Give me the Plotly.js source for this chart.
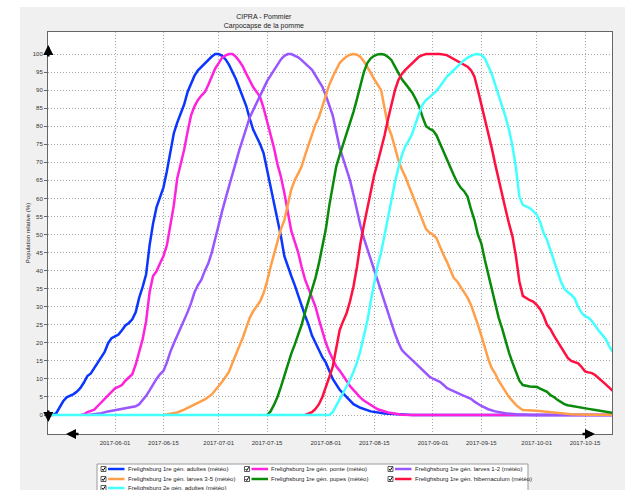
<!DOCTYPE html>
<html><head><meta charset="utf-8">
<script src="https://cdn.plot.ly/plotly-3.0.1.min.js"></script>
<style>
html,body{margin:0;padding:0;background:#fff;width:625px;height:490px;overflow:hidden;}
#chart{position:absolute;left:20px;top:7px;width:605px;height:483px;}
</style></head><body><div id="chart"></div>
<script>
const seriesNames = [
  'Frelighsburg 1re gén. adultes (météo)',
  'Frelighsburg 1re gén. ponte (météo)',
  'Frelighsburg 1re gén. larves 1-2 (météo)',
  'Frelighsburg 1re gén. larves 3-5 (météo)',
  'Frelighsburg 1re gén. pupes (météo)',
  'Frelighsburg 1re gén. hibernaculum (météo)',
  'Frelighsburg 2e gén. adultes (météo)'
];
const seriesColors = ['#0a36ff','#ff22dd','#9955ff','#ff9f4a','#0a8a0a','#ff1040','#44ffff'];

const adultes1Days = ['05-13','05-14','05-15','05-16','05-17','05-18','05-19','05-20','05-21','05-22','05-23','05-24','05-25','05-26','05-27','05-28','05-29','05-30','05-31',
 '06-01','06-02','06-03','06-04','06-05','06-06','06-07','06-08','06-09','06-10','06-11','06-12','06-13','06-14','06-15','06-16','06-17','06-18','06-19','06-20','06-21','06-22','06-23','06-24','06-25','06-26','06-27','06-28','06-29','06-30',
 '07-01','07-02','07-03','07-04','07-05','07-06','07-07','07-08','07-09','07-10','07-11','07-12','07-13','07-14','07-15','07-16','07-17','07-18','07-19','07-20','07-21','07-22','07-23','07-24','07-25','07-26','07-27','07-28','07-29','07-30','07-31',
 '08-01','08-02','08-03','08-04','08-05','08-06','08-07','08-08','08-09','08-11','08-14','08-18','08-22','08-26','10-23'];
const adultes1Values = [0,0,0.5,2,3.8,4.9,5.3,5.8,6.5,7.5,9,10.8,11.5,13,14.8,16,17.5,19.9,21.3,
 21.8,22.3,23.5,24.8,25.5,26.5,28.5,32.5,35.5,39,47,53,57.5,60,63,67.5,73,78,81,83.5,86,89.5,92,94,95.5,96.5,97.5,98.5,99.3,100,
 100,99.5,98.5,97,95,93,90.5,88,85.5,82,79,77,75,72.5,68,64,59.5,55,49.5,44,41,38.5,36,33,30,27.5,25,22,20,18,16,
 14.5,12,10,8.5,7,6,5,4,3,2,1,0.4,0.1,0,0];

const ponteDays = ['05-22','05-23','05-24','05-25','05-26','05-27','05-28','05-29','05-30','05-31',
 '06-01','06-02','06-03','06-04','06-05','06-06','06-07','06-08','06-09','06-10','06-11','06-12','06-13','06-14','06-15','06-16','06-17','06-18','06-19','06-20','06-21','06-22','06-23','06-24','06-25','06-26','06-27','06-28','06-29','06-30',
 '07-01','07-02','07-03','07-04','07-05','07-06','07-07','07-08','07-09','07-10','07-11','07-12','07-13','07-14','07-15','07-16','07-17','07-18','07-19','07-20','07-21','07-22','07-23','07-24','07-25','07-26','07-27','07-28','07-29','07-30','07-31',
 '08-01','08-02','08-03','08-04','08-05','08-06','08-07','08-08','08-09','08-10','08-11','08-12','08-14','08-16','08-19','08-23','08-26','10-23'];
const ponteValues = [0,0.2,0.8,1.2,1.5,2.5,3.5,4.5,5.5,6.5,
 7.4,7.8,8.3,9.5,10.5,11.3,14,17.5,21,26,34,38.5,39.8,42,44,47,52,58,65.5,69.5,73.5,78.5,83,85.5,87.3,88.5,89.5,91.5,94,96,
 97.5,99,99.6,100,100,99.2,98,96.5,94.5,92.5,90.8,89.5,88,85,81.5,78,74,69.5,66,61.5,56,51,48,45,41,37.5,35,32.5,30,26.5,23,
 20,17.5,15.3,13.5,12.3,11,9.5,8,6.9,5.8,4.8,4,2.7,1.6,0.7,0.1,0,0];

const larves12Days = ['05-24','05-26','05-28','05-30','06-01','06-03','06-05','06-07',
 '06-08','06-09','06-10','06-11','06-12','06-13','06-14','06-15','06-16','06-17','06-18','06-19','06-20','06-21','06-22','06-23','06-24','06-25','06-26','06-27','06-28','06-29','06-30',
 '07-01','07-02','07-03','07-04','07-05','07-06','07-07','07-08','07-09','07-10','07-11','07-12','07-13','07-14','07-15','07-16','07-17','07-18','07-19','07-20','07-21','07-22','07-23','07-24','07-25','07-26','07-27','07-28','07-29','07-30','07-31',
 '08-01','08-02','08-03','08-04','08-05','08-06','08-07','08-08','08-09','08-10','08-11','08-12','08-13','08-14','08-15','08-16','08-17','08-18','08-19','08-20','08-21','08-22','08-23','08-24','08-25','08-26','08-27','08-28','08-29','08-30','08-31',
 '09-01','09-02','09-03','09-04','09-05','09-06','09-07','09-08','09-09','09-10','09-11','09-12','09-13','09-14','09-15',
 '09-17','09-19','09-22','09-25','09-30','10-23'];
const larves12Values = [0,0.2,0.5,1,1.4,1.7,2,2.4,
 3,4,5.3,6.8,8.5,10,11.3,12.2,14.5,17.5,19.8,22,24.2,26,28.5,31,34,36,37.5,40,42,45,49,
 53,56.5,60,63.5,66.5,70,73.5,76.5,79.5,82.5,84.5,86.5,88.2,90.5,92.5,94,95.5,97,98.5,99.5,100,100,99.6,99.1,98.3,97.5,96.5,95.6,94,92.5,90.9,
 88.5,86,83,78.5,74,71,68,65,61,56.5,52.5,49,46,43,40.5,37,34,31,28,25.4,22.5,20,18,17,16,15.2,14.3,13.3,12.3,11.4,10.6,
 10.1,9.6,9.2,8.4,7.5,7,6.5,6.1,5.7,5.3,5,4.5,3.7,3,2.5,
 1.6,1,0.5,0.2,0,0];

const larves35Days = ['06-15','06-17','06-19','06-21','06-23','06-25','06-27','06-29','06-30',
 '07-01','07-02','07-03','07-04','07-05','07-06','07-07','07-08','07-09','07-10','07-11','07-12','07-13','07-14','07-15','07-16','07-17','07-18','07-19','07-20','07-21','07-22','07-23','07-24','07-25','07-26','07-27','07-28','07-29','07-30','07-31',
 '08-01','08-02','08-03','08-04','08-05','08-06','08-07','08-08','08-09','08-10','08-11','08-12','08-13','08-14','08-15','08-16','08-17','08-18','08-19','08-20','08-21','08-22','08-23','08-24','08-25','08-26','08-27','08-28','08-29','08-30','08-31',
 '09-01','09-02','09-03','09-04','09-05','09-06','09-07','09-08','09-09','09-10','09-11','09-12','09-13','09-14','09-15','09-16','09-17','09-18','09-19','09-20','09-21','09-22','09-23','09-24','09-25','09-26','09-27',
 '10-01','10-03','10-06','10-11','10-16','10-23'];
const larves35Values = [0,0.3,0.7,1.5,2.5,3.5,4.3,5.7,6.8,
 8,9.2,10.6,12,14.5,16.8,19.3,21.5,24.3,27,28.8,30,31.5,33.8,37,41,44.5,48.5,51.5,54,58,62.5,65,67,68.8,72,75,78,80.5,82.5,85.5,
 89,91.5,93.7,95.8,97.5,98.5,99.3,99.8,100,99.8,99.2,98,96.5,94.8,93,91.5,90,85,80,77.5,74,70.6,68,66,63.5,61,59,56.5,54,51.5,50.5,
 50,49,46.6,44.5,42.5,40,38,37,35.5,34.3,32.5,30.5,28,25,22,18.5,15.5,13,11.5,9.5,7.8,6.5,5,3.8,2.8,2,1.4,
 1.2,1,0.5,0.2,0.1,0.1];

const pupesDays = ['07-15','07-16','07-17','07-18','07-19','07-20','07-21','07-22','07-23','07-24','07-25','07-26','07-27','07-28','07-29','07-30','07-31',
 '08-01','08-02','08-03','08-04','08-05','08-06','08-07','08-08','08-09','08-10','08-11','08-12','08-13','08-14','08-15','08-16','08-17','08-18','08-19','08-20','08-21','08-22','08-23','08-24','08-25','08-26','08-27','08-28','08-29','08-30','08-31',
 '09-01','09-02','09-03','09-04','09-05','09-06','09-07','09-08','09-09','09-10','09-11','09-12','09-13','09-14','09-15','09-16','09-17','09-18','09-19','09-20','09-21','09-22','09-23','09-24','09-25','09-26','09-27','09-28','09-29','09-30',
 '10-01','10-02','10-03','10-04','10-05','10-06','10-07','10-08','10-09','10-10','10-12','10-14','10-16','10-18','10-20','10-23'];
const pupesValues = [0,1,2.8,5,7.8,11,14.3,17,19.5,22,25,28.5,31.5,35,38,42,47,
 51.5,58,64,68.8,72,75,78,80.8,84,87.5,91.5,95,97.5,98.8,99.5,99.9,100,99.8,99.2,98.3,96.5,94.7,93,91.8,90.5,89.3,87.5,85.5,82.5,80,79.3,
 78.8,77.5,75.2,73,70.6,68.5,66.5,64.5,63,62,60.5,57,54,50,47.5,43,39,35,31,27,24,20.5,17.3,14.5,11.8,9.5,8.3,8,7.9,7.8,
 7.8,7.3,6.8,6.4,5.5,5,4.2,3.6,3,2.7,2.3,2,1.7,1.4,1.1,0.6];

const hibernaculumDays = ['07-26','07-27','07-28','07-29','07-30','07-31',
 '08-01','08-02','08-03','08-04','08-05','08-06','08-07','08-08','08-09','08-10','08-11','08-12','08-13','08-14','08-15','08-16','08-17','08-18','08-19','08-20','08-21','08-22','08-23','08-24','08-25','08-26','08-27','08-28','08-29','08-30',
 '09-01','09-03','09-05','09-06','09-07','09-08','09-09','09-10','09-11','09-12','09-13','09-14','09-15','09-16','09-17','09-18','09-19','09-20','09-21','09-22','09-23','09-24','09-25','09-26','09-27','09-28','09-29','09-30',
 '10-01','10-02','10-03','10-04','10-05','10-06','10-07','10-08','10-09','10-10','10-11','10-12','10-13','10-14','10-15','10-16','10-17','10-18','10-19','10-20','10-21','10-22','10-23'];
const hibernaculumValues = [0,0.3,0.8,1.7,3,5,
 7.5,10.5,13.4,18,23.5,26,28.2,31.5,35.6,41,47.5,52.5,57,62,66.5,70,73.5,77.5,82,86,90,92.8,94.5,95.6,96.5,97.5,98.5,99.3,99.7,100,
 100,100,99.7,99.2,98.6,98,97.5,97,96.5,95.5,93.7,90,86,82.5,78,74,69.5,65,61,57,53,49.5,44,37,33,32.3,31.8,31.4,
 30.5,29.3,27.5,25,23.8,22,20.5,18.7,17.3,15.8,15,14.6,14.3,13.3,12.1,11.8,11.6,11,10.2,9.5,8.5,7.6,6.7];

const adultes2Days = ['05-13','08-02',
 '08-03','08-04','08-05','08-06','08-07','08-08','08-09','08-10','08-11','08-12','08-13','08-14','08-15','08-16','08-17','08-18','08-19','08-20','08-21','08-22','08-23','08-24','08-25','08-26','08-27','08-28','08-29','08-30','08-31',
 '09-01','09-02','09-03','09-04','09-05','09-06','09-07','09-08','09-09','09-10','09-11','09-12','09-13','09-14','09-15','09-16','09-17','09-18','09-19','09-20','09-21','09-22','09-23','09-24','09-25','09-26','09-27','09-28','09-29','09-30',
 '10-01','10-02','10-03','10-04','10-05','10-06','10-07','10-08','10-09','10-10','10-11','10-12','10-13','10-14','10-15','10-16','10-17','10-18','10-19','10-20','10-21','10-22','10-23'];
const adultes2Values = [0,0,
 0.8,2.5,4.2,5.9,7.8,9.7,12,14.5,17.8,21.5,26,31.5,37,41.5,45,50,55.5,60.5,64.5,68.5,72,74.5,76,78,81,83.6,86,87.3,88,
 88.8,89.8,91,92.5,93.7,94.6,95.5,96.5,97.5,98.3,99,99.5,99.9,100,99.7,98.8,96.5,94.5,91.5,88.5,86,82.6,79,74.5,68.5,60.5,58.2,57.8,57.3,56.5,
 55.5,53.5,50.5,48.5,45.5,42.5,40,37,35,34,33.3,32.3,30,28.3,27.3,27,26,24.6,23.3,22.2,21,19,17.5];

const xTickDates = ['2017-06-01','2017-06-15','2017-07-01','2017-07-15','2017-08-01','2017-08-15','2017-09-01','2017-09-15','2017-10-01','2017-10-15'];
const yTickValues = [0,5,10,15,20,25,30,35,40,45,50,55,60,65,70,75,80,85,90,95,100];

const seriesDays = [adultes1Days, ponteDays, larves12Days, larves35Days, pupesDays, hibernaculumDays, adultes2Days];
const seriesValues = [adultes1Values, ponteValues, larves12Values, larves35Values, pupesValues, hibernaculumValues, adultes2Values];

const traces = seriesNames.map((name, i) => ({
  type: 'scatter', mode: 'lines', name: name,
  x: seriesDays[i].map(d => '2017-' + d),
  y: seriesValues[i],
  line: {color: seriesColors[i], width: 2.5},
  hoverinfo: 'x+y+name'
}));

// page pixel -> paper helpers (plot area: x 48..612, y 32..434 on the page)
const PX = p => (p - 48) / 564;
const PY = p => (434 - p) / 402;

const shapes = [];
const annotations = [];

// custom legend box
shapes.push({type:'rect', xref:'paper', yref:'paper', x0:PX(97), x1:PX(528), y0:PY(520), y1:PY(464),
  fillcolor:'#ffffff', line:{color:'#9a9a9a', width:1}});
const colX = [101, 244.5, 388];
const rowY = [469, 479, 488];
seriesNames.forEach((name, i) => {
  const cx = colX[i % 3], ry = rowY[Math.floor(i / 3)];
  shapes.push({type:'rect', xref:'paper', yref:'paper', x0:PX(cx), x1:PX(cx+5), y0:PY(ry+2.5), y1:PY(ry-2.5),
    fillcolor:'#ffffff', line:{color:'#333', width:0.8}});
  shapes.push({type:'path', xref:'paper', yref:'paper',
    path:'M' + PX(cx+1) + ',' + PY(ry) + ' L' + PX(cx+2.2) + ',' + PY(ry+1.5) + ' L' + PX(cx+4.3) + ',' + PY(ry-1.8),
    line:{color:'#000', width:1}});
  shapes.push({type:'line', xref:'paper', yref:'paper', x0:PX(cx+7), x1:PX(cx+23.5), y0:PY(ry), y1:PY(ry),
    line:{color:seriesColors[i], width:2.5}});
  annotations.push({xref:'paper', yref:'paper', x:PX(cx+24.5), y:PY(ry), xanchor:'left', yanchor:'middle',
    text:name, showarrow:false, font:{size:6, color:'#222'}});
});

// scroll arrows on the axes
const arrowStyle = {xref:'paper', yref:'paper', text:'', showarrow:true, arrowhead:2, arrowsize:0.8, arrowwidth:2.5, arrowcolor:'#000', standoff:0};
annotations.push(Object.assign({}, arrowStyle, {x:PX(48.3), y:PY(45), ax:0, ay:13}));
annotations.push(Object.assign({}, arrowStyle, {x:PX(48.3), y:PY(422), ax:0, ay:-13}));
annotations.push(Object.assign({}, arrowStyle, {x:PX(66), y:PY(434), ax:14, ay:0}));
annotations.push(Object.assign({}, arrowStyle, {x:PX(595), y:PY(434), ax:-14, ay:0}));

const layout = {
  width: 605, height: 483,
  margin: {l:28, r:13, t:25, b:56, pad:0},
  paper_bgcolor: '#f0f0f0', plot_bgcolor: '#ffffff',
  font: {family: 'Liberation Sans, Arial, sans-serif', size: 6, color: '#222'},
  title: {text: 'CIPRA - Pommier<br>Carpocapse de la pomme', font: {size: 7, color: '#222'},
    xref: 'container', x: 0.403, xanchor: 'center', yref: 'container', y: 0.976, yanchor: 'top'},
  showlegend: false,
  xaxis: {type: 'date', range: ['2017-05-12 14:38', '2017-10-22 19:12'],
    tickvals: xTickDates, ticktext: xTickDates, ticks: 'outside', ticklen: 3, tickcolor: 'rgba(0,0,0,0)',
    showgrid: true, gridcolor: '#a8a8a8', griddash: '1px,2px', gridwidth: 1,
    showline: true, linecolor: '#666', linewidth: 1, mirror: true, zeroline: false,
    tickfont: {size: 6, color: '#333'}, fixedrange: true},
  yaxis: {range: [-5.26, 106.1], tickvals: yTickValues, ticks: 'outside', ticklen: 3, tickcolor: '#666',
    showgrid: true, gridcolor: '#a8a8a8', griddash: '1px,2px', gridwidth: 1,
    showline: true, linecolor: '#666', linewidth: 1, mirror: true, zeroline: false,
    tickfont: {size: 6, color: '#333'}, fixedrange: true,
    title: {text: 'Population relative (%)', font: {size: 6, color: '#222'}, standoff: 1}},
  shapes: shapes,
  annotations: annotations
};

Plotly.newPlot('chart', traces, layout, {displayModeBar: false, responsive: false});
</script></body></html>
